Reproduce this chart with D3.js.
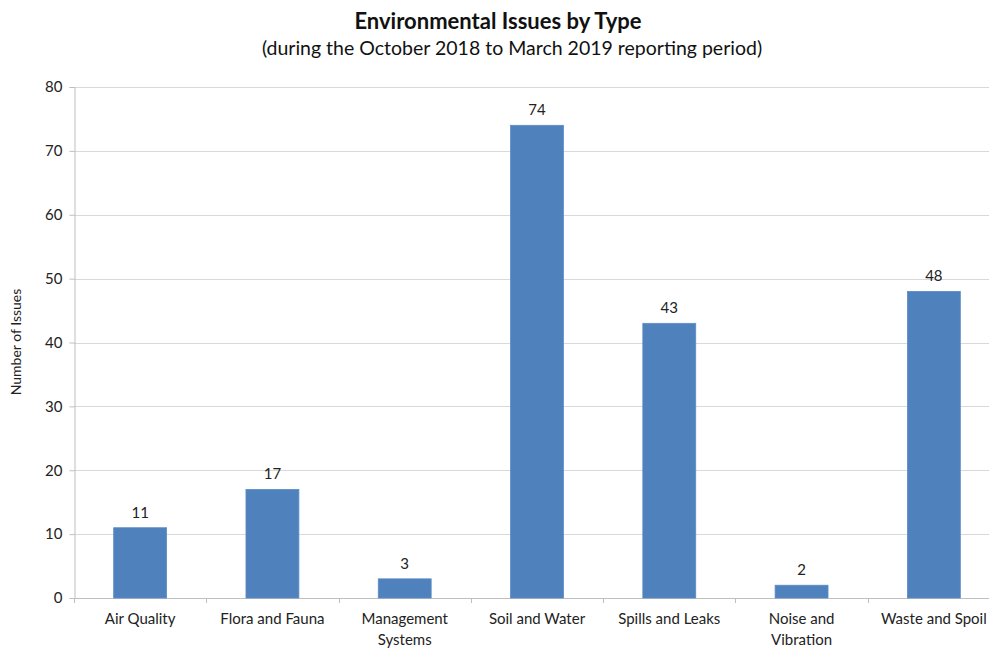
<!DOCTYPE html>
<html>
<head>
<meta charset="utf-8">
<script src="https://cdn.jsdelivr.net/npm/d3@7"></script>
<style>
  html, body { margin: 0; padding: 0; background: #fff; }
  svg { display: block; font-family: Lato, "Open Sans", sans-serif; }
</style>
</head>
<body>
<svg id="chart" width="989" height="648"></svg>
<script>
// Issue counts by type
const categories = [
  ["Air Quality"],
  ["Flora and Fauna"],
  ["Management", "Systems"],
  ["Soil and Water"],
  ["Spills and Leaks"],
  ["Noise and", "Vibration"],
  ["Waste and Spoil"]
];
const issueCounts = [11, 17, 3, 74, 43, 2, 48];
const yTicks = [0, 10, 20, 30, 40, 50, 60, 70, 80];

const titleText = "Environmental Issues by Type";
const subtitleText = "(during the October 2018 to March 2019 reporting period)";
const yAxisTitle = "Number of Issues";

const svg = d3.select("#chart");
const plotLeft = 74, plotRight = 1000, plotTop = 87, plotBottom = 598;

const x = d3.scaleBand()
  .domain(categories.map((d, i) => i))
  .range([plotLeft, plotRight])
  .paddingInner(0.6)
  .paddingOuter(0.3);

const xTickScale = d3.scaleLinear().domain([0, categories.length]).range([plotLeft, plotRight]);

const y = d3.scaleLinear().domain([0, 80]).range([plotBottom, plotTop]);

// Gridlines
svg.append("g")
  .selectAll("line")
  .data(yTicks.filter(t => t > 0))
  .join("line")
  .attr("x1", plotLeft).attr("x2", plotRight)
  .attr("y1", d => Math.round(y(d)) + 0.5).attr("y2", d => Math.round(y(d)) + 0.5)
  .attr("stroke", "#d9d9d9").attr("stroke-width", 1);

// Y axis
const yAxis = svg.append("g")
  .attr("transform", `translate(${plotLeft + 0.5},0)`)
  .call(d3.axisLeft(y).tickValues(yTicks).tickSize(5).tickPadding(7));
yAxis.select(".domain").attr("stroke", "#bfbfbf");
yAxis.selectAll(".tick line").attr("stroke", "#bfbfbf");
yAxis.selectAll(".tick text")
  .attr("font-size", 15).attr("fill", "#222")
  .attr("font-family", "Lato, 'Open Sans', sans-serif");

// X axis line and category boundary ticks
svg.append("line")
  .attr("x1", plotLeft).attr("x2", plotRight)
  .attr("y1", plotBottom + 0.5).attr("y2", plotBottom + 0.5)
  .attr("stroke", "#bfbfbf");
svg.append("g")
  .selectAll("line")
  .data(d3.range(categories.length + 1))
  .join("line")
  .attr("x1", d => Math.round(xTickScale(d)) + 0.5)
  .attr("x2", d => Math.round(xTickScale(d)) + 0.5)
  .attr("y1", plotBottom).attr("y2", plotBottom + 5)
  .attr("stroke", "#bfbfbf");

// Bars
svg.append("g")
  .selectAll("rect")
  .data(issueCounts)
  .join("rect")
  .attr("x", (d, i) => x(i))
  .attr("width", x.bandwidth())
  .attr("y", d => y(d))
  .attr("height", d => y(0) - y(d))
  .attr("fill", "#4f81bd")
  .attr("stroke", "#5b8cc6")
  .attr("stroke-width", 0.8);

// Value labels
svg.append("g")
  .selectAll("text")
  .data(issueCounts)
  .join("text")
  .attr("x", (d, i) => x(i) + x.bandwidth() / 2)
  .attr("y", d => y(d) - 10)
  .attr("text-anchor", "middle")
  .attr("font-size", 15)
  .attr("fill", "#222")
  .text(d => d);

// Category labels
const catG = svg.append("g")
  .selectAll("text")
  .data(categories)
  .join("text")
  .attr("x", (d, i) => x(i) + x.bandwidth() / 2)
  .attr("y", 624)
  .attr("text-anchor", "middle")
  .attr("font-size", 15)
  .attr("fill", "#222");
catG.selectAll("tspan")
  .data((d, i) => d.map(line => ({ line, i })))
  .join("tspan")
  .attr("x", d => x(d.i) + x.bandwidth() / 2)
  .attr("dy", (d, j) => j === 0 ? 0 : 21)
  .text(d => d.line);

// Titles
svg.append("text")
  .attr("x", 498).attr("y", 29)
  .attr("text-anchor", "middle")
  .attr("font-size", 22).attr("font-weight", "bold")
  .attr("fill", "#111")
  .text(titleText);
svg.append("text")
  .attr("x", 512).attr("y", 55)
  .attr("text-anchor", "middle")
  .attr("font-size", 19.5)
  .attr("fill", "#111")
  .text(subtitleText);

// Y axis title
svg.append("text")
  .attr("transform", "translate(21,342) rotate(-90)")
  .attr("text-anchor", "middle")
  .attr("font-size", 14)
  .attr("fill", "#222")
  .text(yAxisTitle);
</script>
</body>
</html>
